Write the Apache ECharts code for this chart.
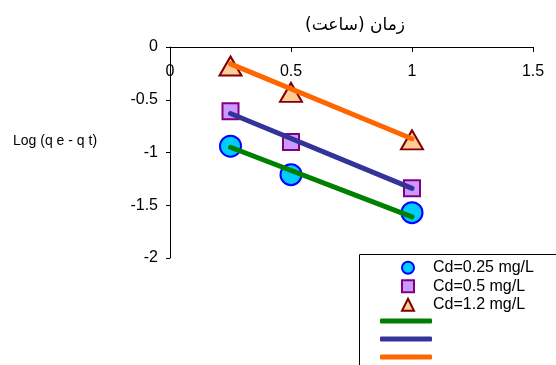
<!DOCTYPE html>
<html>
<head>
<meta charset="utf-8">
<script src="https://cdn.jsdelivr.net/npm/echarts@6/dist/echarts.min.js"></script>
<style>
  html, body { margin: 0; padding: 0; background: #fff; }
  #chart { width: 556px; height: 365px; }
</style>
</head>
<body>
<div id="chart"></div>
<script>
// زمان (ساعت) در محور افقی
var times = [0.25, 0.5, 1];
var seriesNames = ['Cd=0.25 mg/L', 'Cd=0.5 mg/L', 'Cd=1.2 mg/L'];
var cd025 = [-0.94, -1.21, -1.57];
var cd05 = [-0.61, -0.90, -1.34];
var cd12 = [-0.18, -0.43, -0.88];
// خطوط روند (ابتدا و انتها)
var trendNames = ['trend1', 'trend2', 'trend3'];
var trendColors = ['#008000', '#333399', '#FF6600'];
var trendX = [0.25, 1];
var trend025 = [-0.95, -1.61];
var trend05 = [-0.63, -1.34];
var trend12 = [-0.16, -0.87];
var xTicks = [0, 0.5, 1, 1.5];
var yTicks = [-2, -1.5, -1, -0.5, 0];

function pairs(xs, ys) {
  return xs.map(function (x, i) { return [x, ys[i]]; });
}

var font = 'Liberation Sans, Arial, sans-serif';
var chart = echarts.init(document.getElementById('chart'));

// یک راهنما برای هر خط روند
var trendLegends = trendNames.map(function (n, i) {
  return {
    data: [{ name: n, icon: 'roundRect' }],
    left: 380, top: 318.5 + i * 18,
    padding: 0,
    itemWidth: 52, itemHeight: 5,
    z: 10,
    formatter: function () { return ''; },
    itemStyle: { borderWidth: 0 }
  };
});

var option = {
  backgroundColor: '#fff',
  animation: false,
  title: {
    text: 'زمان (ساعت)',
    left: 350,
    top: 12,
    textAlign: 'center',
    textStyle: { fontFamily: 'DejaVu Sans', fontSize: 17, fontWeight: 'normal', color: '#000' }
  },
  grid: { left: 170, top: 47, width: 363, height: 211 },
  xAxis: {
    type: 'value',
    position: 'top',
    min: xTicks[0],
    max: xTicks[xTicks.length - 1],
    interval: 0.5,
    axisLine: { onZero: false, lineStyle: { color: '#000', width: 1 } },
    axisTick: { inside: true, length: 5, lineStyle: { color: '#000' } },
    axisLabel: { inside: true, margin: 17, fontFamily: font, fontSize: 16, color: '#000' },
    splitLine: { show: false }
  },
  yAxis: {
    type: 'value',
    min: yTicks[0],
    max: yTicks[yTicks.length - 1],
    interval: 0.5,
    axisLine: { show: true, onZero: false, lineStyle: { color: '#000', width: 1 } },
    axisTick: { show: true, length: 4, lineStyle: { color: '#000' } },
    axisLabel: { margin: 12, fontFamily: font, fontSize: 16, color: '#000' },
    splitLine: { show: false }
  },
  graphic: [
    {
      type: 'text', left: 13, top: 134,
      style: { text: 'Log (q e - q t)', fontFamily: font, fontSize: 14, fill: '#000' }
    },
    {
      type: 'rect', left: 359, top: 254, z: 5,
      shape: { width: 220, height: 130 },
      style: { fill: '#fff', stroke: '#000', lineWidth: 1 }
    }
  ],
  legend: [
    {
      data: seriesNames,
      orient: 'vertical',
      left: 401, top: 258.5,
      padding: 0,
      itemWidth: 12, itemHeight: 12, itemGap: 0,
      z: 10,
      textStyle: { fontFamily: font, fontSize: 16, lineHeight: 18.5, color: '#000', padding: [0, 0, 0, 14] }
    }
  ].concat(trendLegends),
  series: [
    {
      name: seriesNames[0], type: 'scatter', symbol: 'circle', symbolSize: 21,
      itemStyle: { color: '#00CCFF', borderColor: '#0000FF', borderWidth: 2, opacity: 1 },
      data: pairs(times, cd025), z: 2
    },
    {
      name: seriesNames[1], type: 'scatter', symbol: 'rect', symbolSize: 16,
      itemStyle: { color: '#CC99FF', borderColor: '#800080', borderWidth: 2, opacity: 1 },
      data: pairs(times, cd05), z: 2
    },
    {
      name: seriesNames[2], type: 'scatter', symbol: 'triangle', symbolSize: [22, 19],
      itemStyle: { color: '#FFCC99', borderColor: '#800000', borderWidth: 2, opacity: 1 },
      data: pairs(times, cd12), z: 2
    },
    {
      name: trendNames[0], type: 'line', showSymbol: false, symbol: 'none',
      lineStyle: { color: trendColors[0], width: 5, cap: 'round' }, itemStyle: { color: trendColors[0] },
      data: pairs(trendX, trend025), z: 3
    },
    {
      name: trendNames[1], type: 'line', showSymbol: false, symbol: 'none',
      lineStyle: { color: trendColors[1], width: 5, cap: 'round' }, itemStyle: { color: trendColors[1] },
      data: pairs(trendX, trend05), z: 3
    },
    {
      name: trendNames[2], type: 'line', showSymbol: false, symbol: 'none',
      lineStyle: { color: trendColors[2], width: 5, cap: 'round' }, itemStyle: { color: trendColors[2] },
      data: pairs(trendX, trend12), z: 3
    }
  ]
};

chart.setOption(option);
</script>
</body>
</html>
